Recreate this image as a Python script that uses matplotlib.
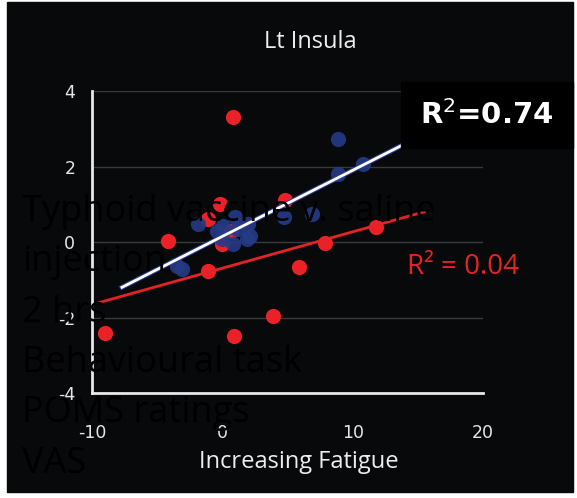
import matplotlib.pyplot as plt
from matplotlib.patches import Rectangle
from matplotlib.patheffects import withStroke

plt.rcParams['axes.unicode_minus'] = False

# typhoid group (red) and blue group points
red_x = [0.8, -4.2, -1.1, -0.2, -1.1, 0.0, 0.7, 4.8, 5.9, 7.9, 11.8, -9.0, 0.9, 3.9]
red_y = [3.31, 0.03, -0.77, 1.0, 0.6, -0.05, 0.3, 1.12, -0.66, -0.03, 0.40, -2.42, -2.5, -1.96]
blue_x = [-1.9, -3.1, -3.5, -0.4, 0.05, 0.0, 0.8, 1.0, 1.1, 1.9, 2.0, 4.7, 8.9, 8.9, 10.8, 6.9, 2.1]
blue_y = [0.48, -0.72, -0.63, 0.30, 0.43, 0.08, -0.05, 0.66, 0.34, 0.08, 0.48, 0.66, 2.73, 1.80, 2.07, 0.74, 0.16]

# fit line end points
red_fit_x = [-9.4, 15.5]
red_fit_y = [-1.6, 0.8]
blue_fit_x = [-7.7, 16.0]
blue_fit_y = [-1.2, 2.95]

xticks = [-10, 0, 10, 20]
yticks = [-4, -2, 0, 2, 4]

fig = plt.figure(figsize=(5.77, 4.98), dpi=100)
fig.patch.set_facecolor('white')
fig.patches.append(Rectangle((7 / 577, 1 - 492 / 498), 566 / 577, 490 / 498,
                             transform=fig.transFigure, color='#08090b', zorder=-10))

ax = fig.add_axes([92 / 577, 1 - 393 / 498, 391 / 577, 302 / 498])
ax.set_facecolor('none')
ax.set_xlim(-10, 20)
ax.set_ylim(-4, 4)
ax.set_xticks(xticks)
ax.set_yticks(yticks)
ax.tick_params(colors='#e6e6e6', length=0, labelsize=12.5)
ax.tick_params(axis='x', pad=22)
ax.tick_params(axis='y', pad=12)
for s in ['top', 'right']:
    ax.spines[s].set_visible(False)
for s in ['left', 'bottom']:
    ax.spines[s].set_color('#e8e8e8')
    ax.spines[s].set_linewidth(2)
for yv in yticks[1:]:
    ax.axhline(yv, color='#3a3a3a', lw=1, zorder=1)

ax.scatter(red_x, red_y, s=120, color='#ea2228', zorder=3, linewidths=0)
ax.scatter(blue_x, blue_y, s=120, color='#263a86', alpha=0.9, zorder=4, linewidths=0)
ax.plot(red_fit_x, red_fit_y, color='#e52226', lw=2, zorder=5)
ax.plot(blue_fit_x, blue_fit_y, color='white', lw=2, zorder=6,
        path_effects=[withStroke(linewidth=3.5, foreground='#2a3a90')])

fig.text(310 / 577, 1 - 42 / 498, 'Lt Insula', color='#eeeeee', fontsize=17,
         ha='center', va='center', family='Open Sans')
fig.text(299 / 577, 1 - 462 / 498, 'Increasing Fatigue', color='#eeeeee', fontsize=17,
         ha='center', va='center', family='Open Sans')

# R2 box for blue group
fig.patches.append(Rectangle((401 / 577, 1 - 148 / 498), 172 / 577, 66 / 498,
                             transform=fig.transFigure, color='black', zorder=8))
fig.text(487 / 577, 1 - 115 / 498, 'R$^2$=0.74', color='white', fontsize=21,
         fontweight='bold', ha='center', va='center', zorder=9)

ax.text(14.2, -0.65, 'R² = 0.04', color='#e52226', fontsize=20, ha='left', va='center',
        family='Open Sans')

fig.text(22 / 577, 1 - 194 / 498,
         'Typhoid vaccine v. saline\ninjection\n2 hrs\nBehavioural task\nPOMS ratings\nVAS',
         color='black', fontsize=26, ha='left', va='top', linespacing=1.53,
         family='Open Sans', zorder=20)

fig.savefig('out.png', dpi=100)
